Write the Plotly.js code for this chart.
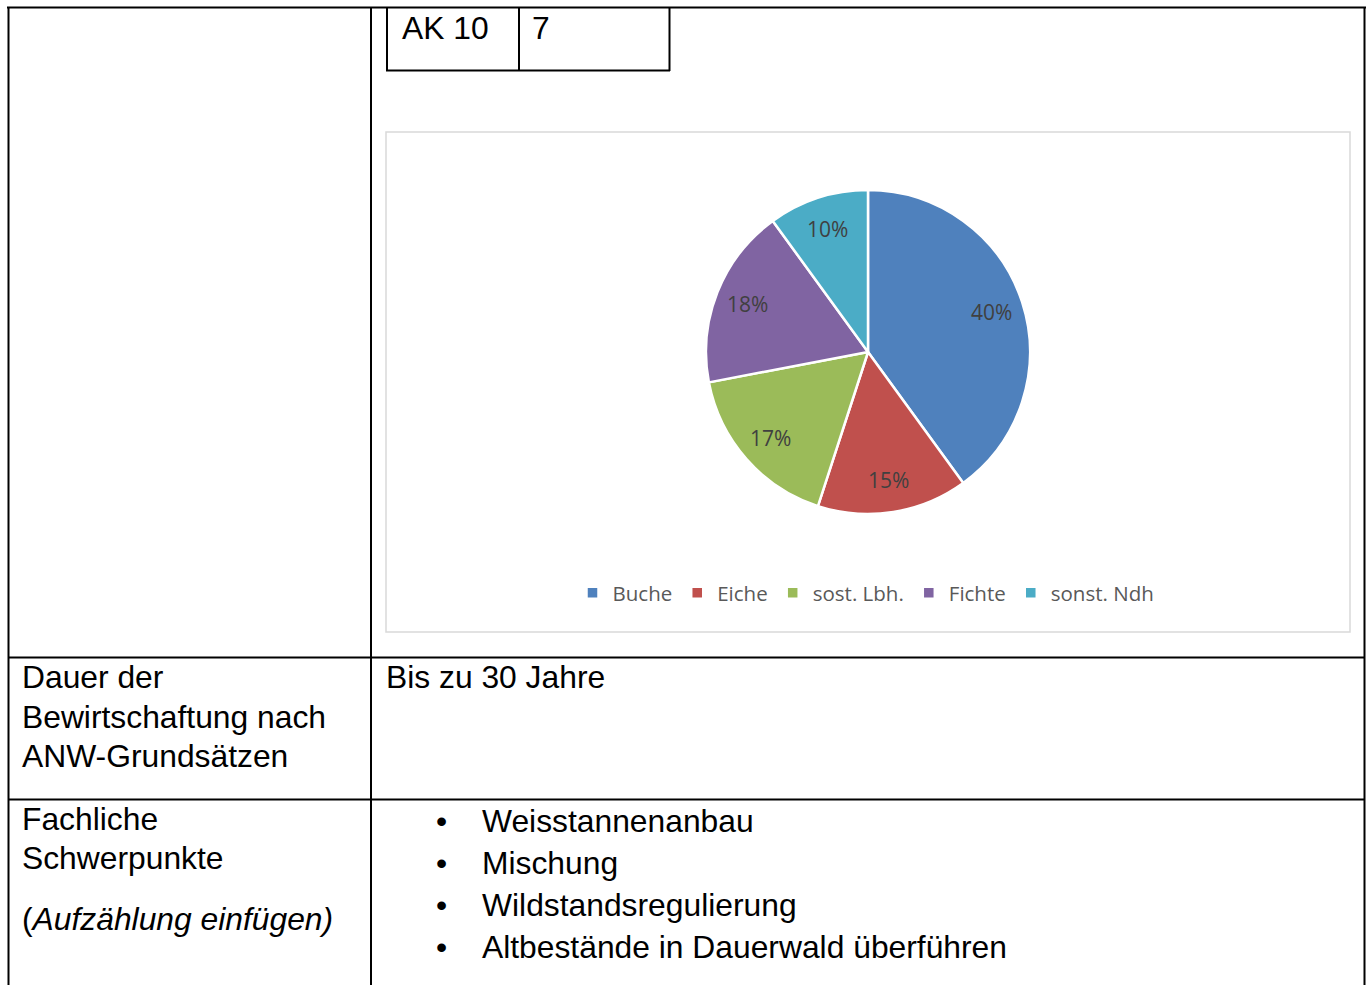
<!DOCTYPE html>
<html>
<head>
<meta charset="utf-8">
<script src="https://cdn.plot.ly/plotly-3.0.1.min.js"></script>
<style>
html,body{margin:0;padding:0;background:#fff;}
#chart{width:1371px;height:985px;}
</style>
</head>
<body>
<div id="chart"></div>
<script>
// ---- data ----
const categories = ["Buche", "Eiche", "sost. Lbh.", "Fichte", "sonst. Ndh"];
const shares = [40, 15, 17, 18, 10];
const sliceColors = ["#4F81BD", "#C0504D", "#9BBB59", "#8064A2", "#4BACC6"];

// table texts
const akLabel = "AK 10";
const akValue = "7";
const dauerLabel = ["Dauer der", "Bewirtschaftung nach", "ANW-Grundsätzen"];
const dauerValue = "Bis zu 30 Jahre";
const fachLabel = ["Fachliche", "Schwerpunkte"];
const fachNote = "(<i>Aufzählung einfügen)</i>";
const fachItems = ["Weisstannenanbau", "Mischung", "Wildstandsregulierung", "Altbestände in Dauerwald überführen"];

// ---- layout helpers (pixel -> paper) ----
const W = 1371, H = 985;
const px = x => x / W;
const py = y => 1 - y / H;

function line(x0, y0, x1, y1, color, width) {
  return {type: "line", xref: "paper", yref: "paper",
    x0: px(x0), y0: py(y0), x1: px(x1), y1: py(y1),
    line: {color: color, width: width}};
}
const tableFont = {family: "Liberation Sans, Arial, sans-serif", size: 31.8, color: "#000"};
function txt(text, x, y, opts) {
  return Object.assign({text: text, xref: "paper", yref: "paper", x: px(x), y: py(y),
    xanchor: "left", yanchor: "middle", showarrow: false, font: tableFont}, opts || {});
}

const shapes = [
  // outer table
  line(7, 7.5, 1366, 7.5, "#000", 2),
  line(8.5, 7, 8.5, 985, "#000", 2),
  line(1364.5, 7, 1364.5, 985, "#000", 2),
  line(371, 7, 371, 985, "#000", 2),
  line(8, 657.5, 1365, 657.5, "#000", 2),
  line(8, 799.5, 1365, 799.5, "#000", 2),
  // small AK table
  line(387, 8, 387, 71, "#000", 2),
  line(519, 8, 519, 71, "#000", 2),
  line(669.5, 8, 669.5, 71, "#000", 2),
  line(386, 70.5, 670, 70.5, "#000", 2),
  // chart frame
  {type: "rect", xref: "paper", yref: "paper", x0: px(386), y0: py(632), x1: px(1350), y1: py(132),
    line: {color: "#D9D9D9", width: 1.5}, fillcolor: "rgba(0,0,0,0)"}
];

const annotations = [
  txt(akLabel, 400, 28),
  txt(akValue, 530, 28),
  txt(dauerLabel[0], 20, 677),
  txt(dauerLabel[1], 20, 717),
  txt(dauerLabel[2], 20, 756),
  txt(dauerValue, 384, 677),
  txt(fachLabel[0], 20, 819),
  txt(fachLabel[1], 20, 858),
  txt(fachNote, 20, 919)
];
fachItems.forEach((item, i) => {
  const yc = 821 + i * 42;
  annotations.push(txt("•", 434, yc));
  annotations.push(txt(item, 480, yc));
});

// pie geometry (pixels) and percentage labels placed from the data
const pieCx = 868, pieCy = 352, pieR = 162;
const total = shares.reduce((a, b) => a + b, 0);
let acc = 0;
shares.forEach(v => {
  const mid = (acc + v / 2) / total * 2 * Math.PI; // clockwise from 12 o'clock
  acc += v;
  const r = pieR * 0.8;
  annotations.push({
    text: Math.round(v / total * 100) + "%",
    xref: "paper", yref: "paper",
    x: px(pieCx + r * Math.sin(mid)), y: py(pieCy - r * Math.cos(mid)),
    xanchor: "center", yanchor: "middle", showarrow: false,
    font: {family: "Open Sans, sans-serif", size: 21, color: "#404040"}
  });
});

const trace = {
  type: "pie",
  labels: categories,
  values: shares,
  sort: false,
  direction: "clockwise",
  rotation: 0,
  marker: {colors: sliceColors, line: {color: "#FFFFFF", width: 2.5}},
  textinfo: "none",
  textposition: "none",
  domain: {x: [px(pieCx - pieR), px(pieCx + pieR)], y: [py(pieCy + pieR), py(pieCy - pieR)]},
  hoverinfo: "skip"
};

const layout = {
  width: W, height: H,
  margin: {l: 0, r: 0, t: 0, b: 0},
  paper_bgcolor: "#FFFFFF",
  plot_bgcolor: "#FFFFFF",
  showlegend: true,
  legend: {orientation: "h", x: px(866), xanchor: "center", y: py(593), yanchor: "middle",
    font: {family: "Open Sans, sans-serif", size: 20.5, color: "#595959"},
    bgcolor: "rgba(0,0,0,0)"},
  shapes: shapes,
  annotations: annotations
};

Plotly.newPlot("chart", [trace], layout, {staticPlot: true, displayModeBar: false});
</script>
</body>
</html>
